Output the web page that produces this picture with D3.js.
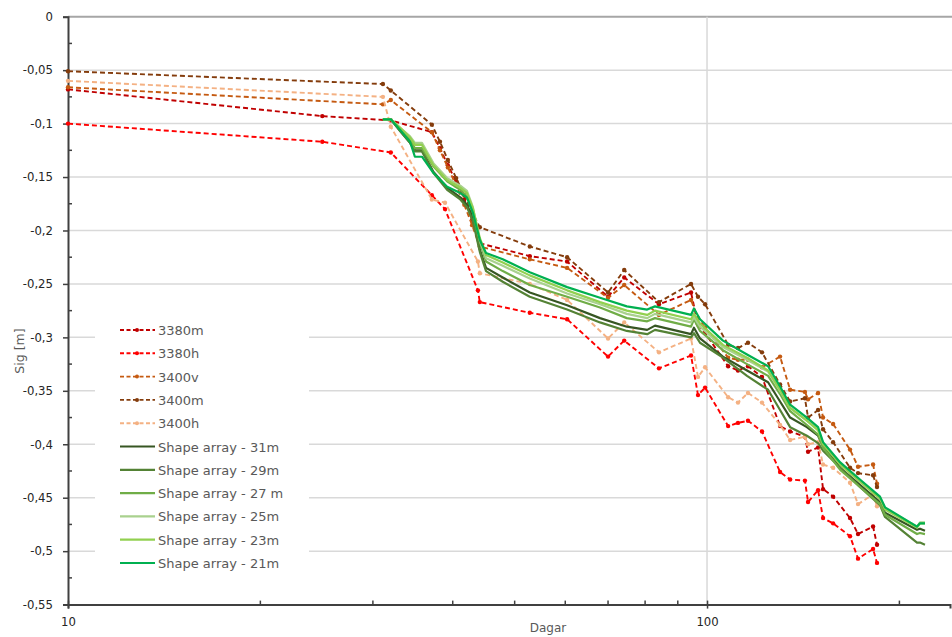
<!DOCTYPE html>
<html>
<head>
<meta charset="utf-8">
<script src="https://cdn.jsdelivr.net/npm/d3@7"></script>
<style>
  body { margin: 0; background: #fff; }
  text { font-family: "DejaVu Sans", Verdana, sans-serif; }
</style>
</head>
<body>
<div id="chart"></div>
<script>
// measured days (shared by the dashed series, null = no reading that day)
const dagar = [10, 25, 31.1, 32, 37.1, 38.2, 38.9, 39.3, 40.5, 41.7, 42.9, 43.8, 44.1, 52.8, 60.4, 70, 74.2, 84.1,
  94.4, 96.8, 99.3, 107.9, 111.8, 115.9, 121.9, 130.1, 134.9, 142.3, 143.9, 149.2, 151.9, 157.5, 167.4, 172.3, 181.9, 184.5];

const s3380m = [-0.068, -0.093, null, -0.097, -0.108, -0.123, null, -0.139, -0.154, -0.171, -0.19, null, -0.212, -0.224, -0.229, -0.262, -0.244, -0.269,
  -0.258, -0.288, -0.296, -0.327, -0.331, -0.327, -0.337, -0.383, -0.388, -0.393, -0.407, -0.403, -0.442, -0.449, -0.469, -0.484, -0.477, -0.494];
const s3380h = [-0.1, -0.117, null, -0.127, -0.167, null, -0.18, null, null, null, null, -0.256, -0.267, -0.277, -0.283, -0.318, -0.303, -0.329,
  -0.317, -0.354, -0.347, -0.383, -0.38, -0.378, -0.388, -0.426, -0.433, -0.434, -0.454, -0.443, -0.469, -0.474, -0.486, -0.507, -0.498, -0.511];
const s3400v = [-0.066, null, -0.082, -0.078, -0.108, -0.125, null, -0.141, -0.158, -0.176, -0.195, null, -0.215, -0.227, -0.235, -0.263, -0.251, -0.279,
  -0.265, -0.282, -0.291, -0.319, -0.321, -0.321, -0.328, -0.318, -0.349, -0.351, -0.358, -0.352, -0.375, -0.381, -0.405, -0.421, -0.419, -0.437];
const s3400m = [-0.051, null, -0.063, -0.069, -0.101, -0.117, null, -0.134, -0.151, -0.167, -0.183, null, -0.197, -0.215, -0.225, -0.258, -0.237, -0.267,
  -0.25, -0.262, -0.269, -0.307, -0.31, -0.305, -0.314, -0.344, -0.36, -0.357, -0.375, -0.368, -0.386, -0.398, -0.422, -0.427, -0.429, -0.44];
const s3400h = [-0.06, null, -0.075, -0.103, -0.171, null, -0.174, null, null, null, null, -0.229, -0.24, -0.25, -0.265, -0.301, -0.286, -0.314,
  -0.301, -0.337, -0.328, -0.356, -0.361, -0.352, -0.361, -0.382, -0.396, -0.393, -0.4, -0.398, -0.419, -0.422, -0.436, -0.456, -0.447, -0.458];

// shape array readings
const shapeDagar = [31.1, 32, 33.1, 34.3, 34.9, 35.8, 37.3, 39.2, 41.1, 42.1, 43, 44.1, 45.1, 47.9, 52.8, 60.4, 68, 74.9, 80.6,
  82.9, 94.4, 95.4, 97.5, 105.9, 115.5, 124.6, 130.1, 134.9, 143.3, 149.2, 151.9, 161.6, 173.5, 186.5, 189.9, 213.1, 215.4, 219.3];

const shape31 = [-0.096, -0.096, -0.107, -0.118, -0.125, -0.125, -0.145, -0.16, -0.169, -0.176, -0.188, -0.218, -0.235, -0.244, -0.258, -0.27, -0.282, -0.29, -0.293,
  -0.289, -0.297, -0.291, -0.301, -0.318, -0.331, -0.342, -0.36, -0.375, -0.384, -0.392, -0.402, -0.422, -0.438, -0.454, -0.464, -0.48, -0.479, -0.481];
const shape29 = [-0.096, -0.096, -0.107, -0.118, -0.126, -0.126, -0.146, -0.162, -0.171, -0.178, -0.191, -0.22, -0.238, -0.248, -0.262, -0.274, -0.286, -0.294, -0.297,
  -0.293, -0.3, -0.296, -0.305, -0.319, -0.336, -0.349, -0.368, -0.384, -0.392, -0.399, -0.406, -0.422, -0.44, -0.457, -0.468, -0.492, -0.492, -0.494];
const shape27 = [-0.096, -0.096, -0.105, -0.115, -0.123, -0.123, -0.14, -0.154, -0.162, -0.168, -0.183, -0.211, -0.229, -0.238, -0.251, -0.262, -0.272, -0.282, -0.285,
  -0.282, -0.29, -0.283, -0.294, -0.312, -0.325, -0.336, -0.353, -0.369, -0.382, -0.391, -0.403, -0.424, -0.44, -0.456, -0.466, -0.484, -0.483, -0.484];
const shape25 = [-0.096, -0.096, -0.104, -0.112, -0.118, -0.118, -0.137, -0.151, -0.158, -0.163, -0.178, -0.209, -0.226, -0.233, -0.245, -0.259, -0.269, -0.278, -0.282,
  -0.278, -0.286, -0.281, -0.29, -0.309, -0.321, -0.332, -0.35, -0.366, -0.378, -0.386, -0.399, -0.418, -0.434, -0.45, -0.46, -0.477, -0.473, -0.473];
const shape23 = [-0.096, -0.096, -0.104, -0.113, -0.12, -0.12, -0.139, -0.153, -0.16, -0.165, -0.179, -0.207, -0.223, -0.23, -0.242, -0.256, -0.267, -0.275, -0.279,
  -0.275, -0.283, -0.278, -0.287, -0.307, -0.319, -0.331, -0.349, -0.366, -0.378, -0.387, -0.4, -0.419, -0.435, -0.451, -0.461, -0.478, -0.474, -0.474];
const shape21 = [-0.096, -0.096, -0.106, -0.117, -0.131, -0.131, -0.146, -0.159, -0.165, -0.169, -0.183, -0.209, -0.221, -0.227, -0.239, -0.253, -0.263, -0.271, -0.274,
  -0.271, -0.279, -0.273, -0.283, -0.303, -0.316, -0.327, -0.346, -0.363, -0.375, -0.384, -0.398, -0.417, -0.433, -0.449, -0.459, -0.477, -0.474, -0.474];

const yTicks = [0, -0.05, -0.1, -0.15, -0.2, -0.25, -0.3, -0.35, -0.4, -0.45, -0.5, -0.55];
const xTicks = [10, 100];
const xMinor = [20, 30, 40, 50, 60, 70, 80, 90, 200];

const series = [
  { name: "3380m", days: dagar, values: s3380m, color: "#C00000", dashed: true },
  { name: "3380h", days: dagar, values: s3380h, color: "#FF0000", dashed: true },
  { name: "3400v", days: dagar, values: s3400v, color: "#C55A11", dashed: true },
  { name: "3400m", days: dagar, values: s3400m, color: "#843C0C", dashed: true },
  { name: "3400h", days: dagar, values: s3400h, color: "#F4B183", dashed: true },
  { name: "Shape array - 31m", days: shapeDagar, values: shape31, color: "#375623" },
  { name: "Shape array - 29m", days: shapeDagar, values: shape29, color: "#548235" },
  { name: "Shape array - 27 m", days: shapeDagar, values: shape27, color: "#70AD47" },
  { name: "Shape array - 25m", days: shapeDagar, values: shape25, color: "#A9D18E" },
  { name: "Shape array - 23m", days: shapeDagar, values: shape23, color: "#92D050" },
  { name: "Shape array - 21m", days: shapeDagar, values: shape21, color: "#00B050" },
];

const width = 952, height = 637;
const plotLeft = 68, plotRight = 950, plotTop = 16.7, plotBottom = 604.6;
const font = "'DejaVu Sans', Verdana, sans-serif";

const svg = d3.select("#chart").append("svg")
  .attr("width", width)
  .attr("height", height);

const x = d3.scaleLog().domain([10, 240]).range([plotLeft, plotRight]);
const y = d3.scaleLinear().domain([-0.55, 0]).range([plotBottom, plotTop]);

const fmt = (v) => String(+v.toFixed(2)).replace(".", ",");

// gridlines
svg.append("g")
  .selectAll("line")
  .data(yTicks.filter((v) => v !== -0.55))
  .enter()
  .append("line")
  .attr("x1", plotLeft)
  .attr("x2", plotRight + 2)
  .attr("y1", (d) => y(d))
  .attr("y2", (d) => y(d))
  .attr("stroke", (d) => (d === 0 ? "#a6a6a6" : "#d9d9d9"))
  .attr("stroke-width", (d) => (d === 0 ? 2 : 1.5));

svg.append("line")
  .attr("x1", x(100)).attr("x2", x(100))
  .attr("y1", plotTop).attr("y2", plotBottom)
  .attr("stroke", "#d9d9d9")
  .attr("stroke-width", 1.5);

// y axis
const yAxis = svg.append("g").attr("transform", `translate(${plotLeft},0)`)
  .call(d3.axisLeft(y).tickValues(yTicks).tickFormat(fmt).tickSize(5).tickPadding(10));
yAxis.select(".domain").attr("stroke", "#404040").attr("stroke-width", 2);
yAxis.selectAll(".tick line").attr("stroke", "#404040").attr("stroke-width", 1.5);
yAxis.selectAll(".tick text").attr("font-size", 11.7).attr("fill", "#262626")
  .attr("font-family", font);

svg.append("g")
  .selectAll("line")
  .data(d3.range(-0.025, -0.55, -0.05))
  .enter()
  .append("line")
  .attr("x1", plotLeft).attr("x2", plotLeft + 4)
  .attr("y1", (d) => y(d)).attr("y2", (d) => y(d))
  .attr("stroke", "#404040").attr("stroke-width", 1.5);

// x axis
const xAxis = svg.append("g").attr("transform", `translate(0,${plotBottom})`)
  .call(d3.axisBottom(x).tickValues(xTicks).tickFormat(d3.format("d")).tickSize(4).tickPadding(9));
xAxis.select(".domain").attr("stroke", "#404040").attr("stroke-width", 2);
xAxis.selectAll(".tick line").attr("stroke", "#404040").attr("stroke-width", 1.5).attr("y1", -4);
xAxis.selectAll(".tick text").attr("font-size", 11.7).attr("fill", "#262626")
  .attr("font-family", font);

svg.append("g")
  .selectAll("line")
  .data(xMinor)
  .enter()
  .append("line")
  .attr("x1", (d) => x(d)).attr("x2", (d) => x(d))
  .attr("y1", plotBottom - 4).attr("y2", plotBottom)
  .attr("stroke", "#404040").attr("stroke-width", 1.5);

svg.append("text")
  .attr("x", 548).attr("y", 632)
  .attr("text-anchor", "middle")
  .attr("font-size", 12).attr("fill", "#595959")
  .text("Dagar");

svg.append("text")
  .attr("transform", "translate(24,351) rotate(-90)")
  .attr("text-anchor", "middle")
  .attr("font-size", 12.5).attr("fill", "#595959")
  .text("Sig [m]");

// series
const line = d3.line().x((d) => x(d[0])).y((d) => y(d[1]));

series.forEach((s) => {
  const pts = s.days.map((d, i) => [d, s.values[i]]).filter((p) => p[1] !== null);
  const g = svg.append("g");
  g.append("path")
    .datum(pts)
    .attr("d", line)
    .attr("fill", "none")
    .attr("stroke", s.color)
    .attr("stroke-width", s.dashed ? 1.9 : 2.2)
    .attr("stroke-dasharray", s.dashed ? "5,3" : null)
    .attr("stroke-linejoin", "round");
  if (s.dashed) {
    g.selectAll("circle")
      .data(pts)
      .enter()
      .append("circle")
      .attr("cx", (d) => x(d[0]))
      .attr("cy", (d) => y(d[1]))
      .attr("r", 2.2)
      .attr("fill", s.color);
  }
});

// legend
const legend = svg.append("g").attr("transform", "translate(95,316)");
legend.append("rect")
  .attr("width", 214).attr("height", 262)
  .attr("fill", "#fff");

legend.selectAll("g")
  .data(series)
  .enter()
  .append("g")
  .attr("transform", (d, i) => `translate(0, ${14 + i * 23.3})`)
  .each(function (d) {
    const item = d3.select(this);
    item.append("line")
      .attr("x1", 25).attr("x2", 60)
      .attr("stroke", d.color)
      .attr("stroke-width", d.dashed ? 1.9 : 2.2)
      .attr("stroke-dasharray", d.dashed ? "4,2.5" : null);
    if (d.dashed) {
      item.append("circle").attr("cx", 42).attr("r", 2).attr("fill", d.color);
    }
    item.append("text")
      .attr("x", 63).attr("y", 5)
      .attr("font-size", 13).attr("fill", "#595959")
      .text(d.name);
  });
</script>
</body>
</html>
